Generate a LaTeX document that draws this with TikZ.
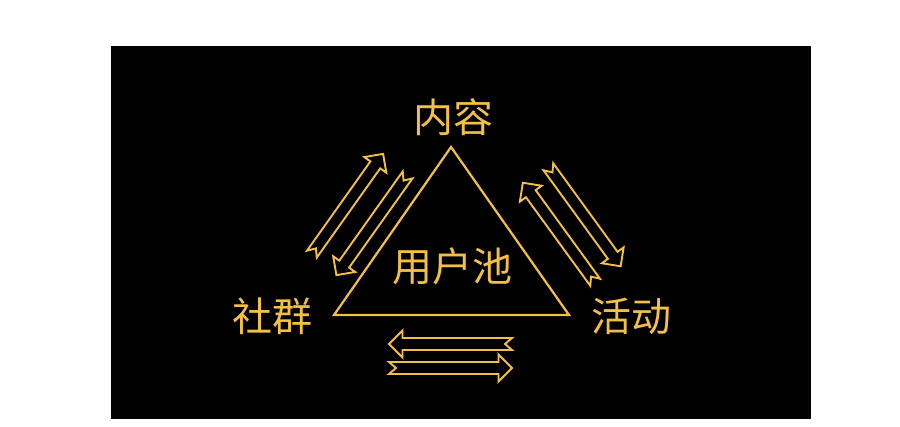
\documentclass[tikz,border=0pt]{standalone}
\usepackage{fontspec}
\newfontfamily\cjk{Noto Sans CJK SC}
\usepackage{xcolor}
\definecolor{bgdark}{HTML}{000000}
\definecolor{goldline}{HTML}{F4BF45}
\usetikzlibrary{positioning,calc}

\tikzset{
  pics/hollowarrow/.style={code={
    \draw[arr] (-61.5,6) -- (48,6) -- (48,13.5) -- (61.5,0) -- (48,-13.5) -- (48,-6)
      -- (-61.5,-6) -- (-54.5,0) -- cycle;
  }}
}

\begin{document}
\begin{tikzpicture}[x=1pt, y=-1pt,
    lab/.style={text=goldline, font=\cjk\fontsize{40}{40}\selectfont, inner sep=0pt},
    arr/.style={draw=goldline, line width=1.9pt, line join=miter},
    tri/.style={draw=goldline, line width=2.2pt, line join=miter},
  ]
    \useasboundingbox[fill=white] (0,0) rectangle (900,426);
    \fill[bgdark] (111,46) rectangle (811,419);
    % Triangle
    \coordinate (top) at (451,147);
    \coordinate (bl) at (334,315);
    \coordinate (br) at (569,315);
    \draw[tri] (top) -- (bl) -- (br) -- cycle;
    % Labels
    \node[lab] (content) at (453,117) {内容};
    \node[lab] (pool) at (452,266) {用户池};
    \node[lab] (community) at (272,316) {社群};
    \node[lab] (event) at (631,316) {活动};
    % Arrows
    \coordinate (lout) at (347.5,204);
    \coordinate (lin) at (372,225);
    \coordinate (rin) at (559,232.5);
    \coordinate (rout) at (584.5,216.5);
    \coordinate (btop) at (450.5,344);
    \coordinate (bbot) at (450.5,368);
    \pic[rotate=54.6] at (lout) {hollowarrow};
    \pic[rotate=234.6] at (lin) {hollowarrow};
    \pic[rotate=126] at (rin) {hollowarrow};
    \pic[rotate=-54] at (rout) {hollowarrow};
    \pic[rotate=180] at (btop) {hollowarrow};
    \pic at (bbot) {hollowarrow};
  \end{tikzpicture}
\end{document}
